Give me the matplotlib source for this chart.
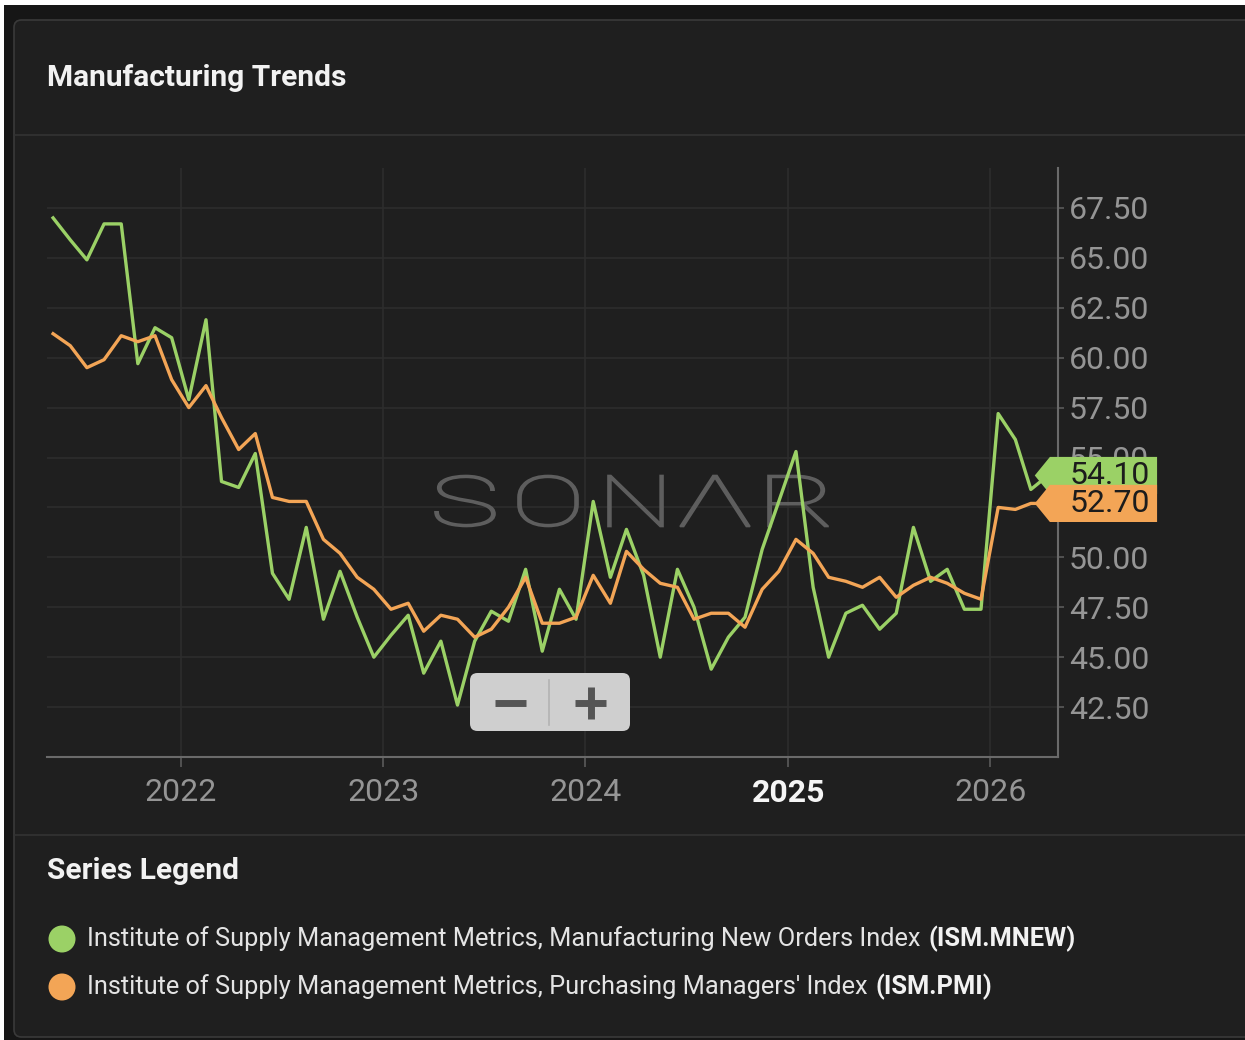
import matplotlib
matplotlib.use('Agg')
import matplotlib.pyplot as plt
import matplotlib.transforms as mtransforms
from matplotlib.patches import FancyBboxPatch, Polygon, Rectangle, Ellipse, PathPatch
from matplotlib.lines import Line2D
from matplotlib.textpath import TextPath
from matplotlib.font_manager import FontProperties
import pandas as pd

plt.rcParams['font.family'] = ['Roboto', 'DejaVu Sans']

# monthly readings, May 2021 .. Apr 2026 (plotted mid-month)
months = pd.date_range('2021-05-01', periods=60, freq='MS') + pd.Timedelta(days=14)

new_orders = [67.0, 65.9, 64.9, 66.7, 66.7, 59.7, 61.5, 61.0, 57.9, 61.9,
              53.8, 53.5, 55.2, 49.2, 47.9, 51.5, 46.9, 49.3, 47.0, 45.0,
              46.1, 47.1, 44.2, 45.8, 42.6, 45.8, 47.3, 46.8, 49.4, 45.3,
              48.4, 46.9, 52.8, 49.0, 51.4, 49.1, 45.0, 49.4, 47.5, 44.4,
              46.0, 47.0, 50.4, 52.8, 55.3, 48.5, 45.0, 47.2, 47.6, 46.4,
              47.2, 51.5, 48.8, 49.4, 47.4, 47.4, 57.2, 55.9, 53.4, 54.1]

pmi = [61.2, 60.6, 59.5, 59.9, 61.1, 60.8, 61.1, 58.9, 57.5, 58.6,
       57.0, 55.4, 56.2, 53.0, 52.8, 52.8, 50.9, 50.2, 49.0, 48.4,
       47.4, 47.7, 46.3, 47.1, 46.9, 46.0, 46.4, 47.5, 49.0, 46.7,
       46.7, 47.0, 49.1, 47.7, 50.3, 49.4, 48.7, 48.5, 46.9, 47.2,
       47.2, 46.5, 48.4, 49.3, 50.9, 50.2, 49.0, 48.8, 48.5, 49.0,
       48.0, 48.6, 49.0, 48.7, 48.2, 47.9, 52.5, 52.4, 52.7, 52.7]

years = ['2022', '2023', '2024', '2025', '2026']
y_ticks = [42.5, 45.0, 47.5, 50.0, 52.5, 55.0, 57.5, 60.0, 62.5, 65.0, 67.5]
last_labels = ['54.10', '52.70']
series_names = ['Institute of Supply Management Metrics, Manufacturing New Orders Index',
                "Institute of Supply Management Metrics, Purchasing Managers' Index"]
series_codes = ['(ISM.MNEW)', '(ISM.PMI)']

GREEN = '#9bd166'
ORANGE = '#f3a556'

W, H = 1245, 1040
fig = plt.figure(figsize=(W / 100, H / 100), dpi=100, facecolor='white')


def fx(px):
    return px / W


def fy(py):
    return 1 - py / H


# page background and card
fig.patches.append(Rectangle((fx(4), 0), 1 - fx(4), fy(5), transform=fig.transFigure,
                             facecolor='#161616', edgecolor='none', zorder=-3))
fig.patches.append(FancyBboxPatch((fx(14), fy(1037)), 1.1 - fx(14), fy(20) - fy(1037),
                                  boxstyle='round,pad=0,rounding_size=0.006',
                                  mutation_aspect=W / H, transform=fig.transFigure,
                                  facecolor='#1f1f1f', edgecolor='#3a3a3a', lw=1.2, zorder=-2))
for yy in (135, 835):
    fig.add_artist(Line2D([fx(15), 1], [fy(yy), fy(yy)], color='#333333', lw=1.2))

fig.text(fx(47), fy(78), 'Manufacturing Trends', fontsize=21.5, fontweight='bold',
         color='#f2f2f2', va='center', ha='left')

# chart
ax = fig.add_axes([fx(47), fy(757), fx(1058) - fx(47), fy(168) - fy(757)])
ax.set_facecolor('none')
ax.plot(months, new_orders, color=GREEN, lw=2.4, zorder=3)
ax.plot(months, pmi, color=ORANGE, lw=2.4, zorder=3)

ax.set_xlim(pd.Timestamp('2021-05-04'), pd.Timestamp('2026-05-03'))
ax.set_ylim(40, 69.5)

ax.set_xticks([pd.Timestamp(y + '-01-01') for y in years])
ax.set_xticklabels(years)
ax.set_yticks(y_ticks)
ax.set_yticklabels([f'{v:.2f}' for v in y_ticks])
ax.yaxis.tick_right()
ax.grid(True, color='#2d2d2d', lw=1.2)
ax.set_axisbelow(True)

for s in ('left', 'top'):
    ax.spines[s].set_visible(False)
for s in ('bottom', 'right'):
    ax.spines[s].set_color('#6a6a6a')
    ax.spines[s].set_linewidth(1.5)

ax.tick_params(axis='x', length=7, width=1.2, color='#5a5a5a', labelsize=23,
               labelcolor='#959595', pad=8)
ax.tick_params(axis='y', length=4, width=1.2, color='#5a5a5a', labelsize=23,
               labelcolor='#959595', pad=4)
for lbl in ax.get_xticklabels():
    if lbl.get_text() == '2025':
        lbl.set_color('#f5f5f5')
        lbl.set_fontweight('bold')

# last value tags
blend = mtransforms.blended_transform_factory(ax.transAxes, ax.transData)
tags = [(new_orders[-1], GREEN, last_labels[0]), (pmi[-1], ORANGE, last_labels[1])]
for val, col, txt in tags:
    h = 0.93
    poly = Polygon([(0.977, val), (0.992, val + h), (1.098, val + h),
                    (1.098, val - h), (0.992, val - h)], closed=True,
                   transform=blend, facecolor=col, edgecolor='none',
                   clip_on=False, zorder=6)
    ax.add_patch(poly)
    ax.text(1.012, val, txt, transform=blend, fontsize=23, color='#1c1c1c',
            va='center', ha='left', clip_on=False, zorder=7)

# watermark behind the lines, each letter stretched into its box (pixels)
wm_prop = FontProperties(family='Roboto', weight='light')
wm_boxes = [(435, 495), (518, 578), (608, 663), (680, 750), (768, 828)]
for ch, (x0, x1) in zip(['S', 'O', 'N', 'Λ', 'R'], wm_boxes):
    tp = TextPath((0, 0), ch, size=100, prop=wm_prop)
    ext = tp.get_extents()
    tr = (mtransforms.Affine2D().translate(-ext.x0, -ext.y0)
          .scale((x1 - x0) / ext.width, 51 / ext.height)
          .translate(x0, H - 526.5))
    wm = PathPatch(tp, transform=tr, facecolor='#5e5e5e', edgecolor='#5e5e5e',
                   lw=1.2, zorder=2, clip_on=False)
    ax.add_artist(wm)

# zoom buttons
fig.patches.append(FancyBboxPatch((fx(470), fy(731)), fx(630) - fx(470), fy(673) - fy(731),
                                  boxstyle='round,pad=0,rounding_size=0.006',
                                  mutation_aspect=W / H, transform=fig.transFigure,
                                  facecolor='#cfcfcf', edgecolor='none', zorder=5))
fig.add_artist(Line2D([fx(549), fx(549)], [fy(680), fy(725)], color='#b3b3b3', lw=1.2, zorder=6))
fig.add_artist(Line2D([fx(495), fx(526)], [fy(703), fy(703)], color='#555555', lw=5,
                      solid_capstyle='butt', zorder=6))
fig.add_artist(Line2D([fx(575), fx(606)], [fy(703), fy(703)], color='#555555', lw=5,
                      solid_capstyle='butt', zorder=6))
fig.add_artist(Line2D([fx(590.5), fx(590.5)], [fy(687), fy(719)], color='#555555', lw=5,
                      solid_capstyle='butt', zorder=6))

# legend
fig.text(fx(47), fy(871), 'Series Legend', fontsize=21.5, fontweight='bold',
         color='#f2f2f2', va='center', ha='left')
renderer = fig.canvas.get_renderer()
for i, (name, code, col) in enumerate(zip(series_names, series_codes, [GREEN, ORANGE])):
    yy = 939 + i * 48
    fig.add_artist(Ellipse((fx(62), fy(yy)), 27 / W, 27 / H, facecolor=col, edgecolor='none'))
    t = fig.text(fx(87), fy(yy), name, fontsize=18.3, color='#e4e4e4', va='center', ha='left')
    bb = t.get_window_extent(renderer)
    fig.text((bb.x1 + 8) / W, fy(yy), code, fontsize=18.3, fontweight='bold',
             color='#f2f2f2', va='center', ha='left')

fig.savefig('out.png', dpi=100, facecolor=fig.get_facecolor())
